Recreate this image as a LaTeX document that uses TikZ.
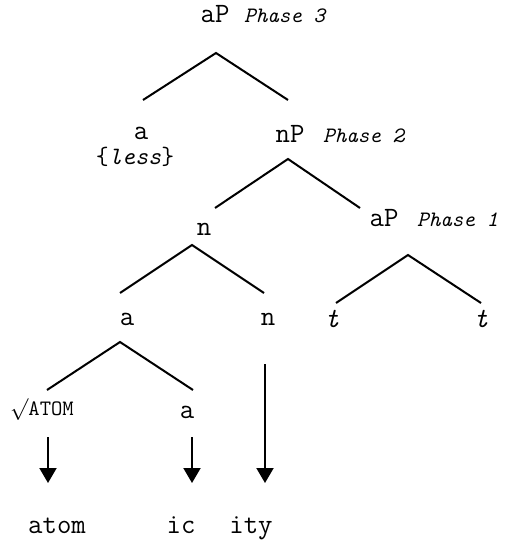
\documentclass[tikz,border=0pt]{standalone}
\usepackage{fontspec}
\usepackage{tikz}
\usetikzlibrary{arrows.meta,positioning}

\tikzset{
  lbl/.style={font=\ttfamily\fontsize{14}{16}\selectfont, inner sep=0pt, anchor=base},
  phase/.style={font=\ttfamily\itshape\fontsize{11}{13}\selectfont, inner sep=0pt},
  branch/.style={line width=1pt},
  spellout/.style={line width=1pt, -{Triangle[width=8.5pt,length=7.5pt]}}
}

\begin{document}
\begin{tikzpicture}[x=0.5pt,y=-0.5pt]
\useasboundingbox (0,0) rectangle (507,545);

% Labels of the tree
\node[lbl] (aP3) at (215,23) {aP};
\node[phase, base right=7pt of aP3] (ph3) {Phase 3};
\node[lbl] (aless) at (141,140) {a};
\node[lbl, font=\ttfamily\fontsize{12.5}{14}\selectfont] (less) at (135,165) {\{\textit{less}\}};
\node[lbl] (nP) at (290,143) {nP};
\node[phase, base right=9pt of nP] (ph2) {Phase 2};
\node[lbl] (nmid) at (204,235) {n};
\node[lbl] (aP1) at (384,227) {aP};
\node[phase, base right=9pt of aP1] (ph1) {Phase 1};
\node[lbl] (alow) at (127,325) {a};
\node[lbl] (nlow) at (268,325) {n};
\node[lbl, font=\ttfamily\itshape\fontsize{14}{16}\selectfont] (tl) at (332,327) {t};
\node[lbl, font=\ttfamily\itshape\fontsize{14}{16}\selectfont] (tr) at (481,327) {t};
\node[lbl] (root) at (42,415) {{\fontsize{11}{13}\selectfont$\surd$ATOM}};
\node[lbl] (asuf) at (187,418) {a};

% Exponents
\node[lbl] (atom) at (57,533) {atom};
\node[lbl] (ic) at (181,533) {ic};
\node[lbl] (ity) at (251,533) {ity};

% Branch points (apex, left end, right end)
\coordinate (top-apex) at (216,53);  \coordinate (top-l) at (143,100); \coordinate (top-r) at (288,100);
\coordinate (nP-apex) at (288,159);  \coordinate (nP-l) at (215,208);  \coordinate (nP-r) at (360,208);
\coordinate (n-apex) at (192,245);   \coordinate (n-l) at (120,293);   \coordinate (n-r) at (264,293);
\coordinate (aP-apex) at (408,255);  \coordinate (aP-l) at (336,303);  \coordinate (aP-r) at (481,303);
\coordinate (a-apex) at (120,342);   \coordinate (a-l) at (47,390);    \coordinate (a-r) at (193,390);

\foreach \p in {top,nP,n,aP,a}
  \draw[branch] (\p-l) -- (\p-apex) -- (\p-r);

% Vocabulary insertion
\coordinate (root-s) at (48,437);  \coordinate (root-e) at (48,483);
\coordinate (asuf-s) at (192,437); \coordinate (asuf-e) at (192,483);
\coordinate (nlow-s) at (265,364); \coordinate (nlow-e) at (265,483);
\draw[spellout] (root-s) -- (root-e);
\draw[spellout] (asuf-s) -- (asuf-e);
\draw[spellout] (nlow-s) -- (nlow-e);
\end{tikzpicture}
\end{document}
